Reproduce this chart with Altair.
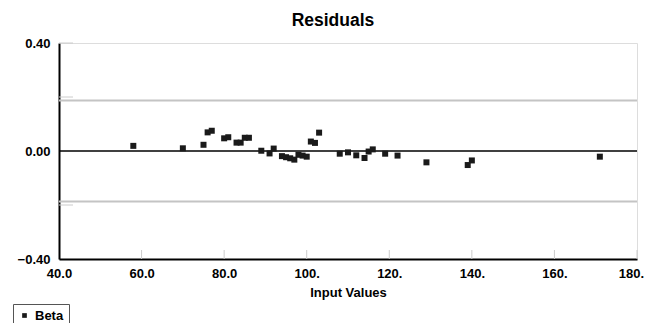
import altair as alt
import pandas as pd

# Residual data (Input value, residual)
input_values = [58, 70, 75, 76, 77, 80, 81, 83, 84, 85, 86, 89, 91, 92, 94, 95, 96, 97,
                98, 99, 100, 101, 102, 103, 108, 110, 112, 114, 115, 116, 119, 122,
                129, 139, 140, 171]
residuals = [0.019, 0.010, 0.023, 0.069, 0.075, 0.047, 0.051, 0.031, 0.031, 0.049, 0.049,
             0.001, -0.009, 0.009, -0.019, -0.023, -0.027, -0.032, -0.014, -0.017,
             -0.021, 0.035, 0.030, 0.068, -0.010, -0.005, -0.016, -0.026, -0.002,
             0.006, -0.010, -0.017, -0.042, -0.052, -0.035, -0.021]
series_name = "Beta"

control_limits = [0.187, -0.187]
y_tick_values = [0.4, 0.2, -0.2]
x_tick_values = [60, 80, 100, 120, 140, 160, 180]
x_label_values = [40, 60, 80, 100, 120, 140, 160, 180]
x_label_texts = ["40.0", "60.0", "80.0", "100.", "120.", "140.", "160.", "180."]

W, H = 578, 216
FONT = "Liberation Sans"

pts = pd.DataFrame({"x": input_values, "y": residuals, "series": series_name})

label_map = "{" + ",".join(f"'{v}':'{t}'" for v, t in zip(x_label_values, x_label_texts)) + "}"

x_scale = alt.Scale(domain=[40, 180], nice=False, zero=False)
y_scale = alt.Scale(domain=[-0.4, 0.4], nice=False)

points = alt.Chart(pts).mark_square(size=36, opacity=1).encode(
    x=alt.X("x:Q", scale=x_scale,
            axis=alt.Axis(values=x_label_values, labelExpr=label_map + "[datum.value]",
                          ticks=False, grid=False, domainColor="black", domainWidth=2,
                          labelFont=FONT, labelFontWeight="bold", labelFontSize=13,
                          labelColor="black", labelPadding=8, labelFlush=False,
                          labelOverlap=False,
                          labelOffset={"expr": "datum.value == 180 ? -6 : 0"},
                          title="Input Values", titleFont=FONT, titleFontWeight="bold",
                          titleFontSize=13, titleColor="black", titlePadding=6)),
    y=alt.Y("y:Q", scale=y_scale,
            axis=alt.Axis(values=[-0.4, 0, 0.4], format=".2f", ticks=False, grid=False,
                          domainColor="black", domainWidth=2,
                          labelFont=FONT, labelFontWeight="bold", labelFontSize=13,
                          labelColor="black", labelPadding=9, title=None)),
    color=alt.Color("series:N", scale=alt.Scale(range=["#1a1a1a"]),
                    legend=alt.Legend(title=None, orient="none", legendX=-46, legendY=261,
                                      symbolType="square", symbolSize=22,
                                      labelFont=FONT, labelFontWeight="bold",
                                      labelFontSize=13, labelColor="black",
                                      strokeColor="#555555", fillColor="white",
                                      padding=5, cornerRadius=0)),
)

limits = alt.Chart(pd.DataFrame({"y": control_limits})).mark_rule(
    color="#c4c4c4", strokeWidth=2).encode(
    y=alt.Y("y:Q", scale=y_scale), x=alt.value(0), x2=alt.value(W))

zero = alt.Chart(pd.DataFrame({"y": [0.0]})).mark_rule(
    color="black", strokeWidth=1.6).encode(
    y=alt.Y("y:Q", scale=y_scale), x=alt.value(0), x2=alt.value(W))

yticks = alt.Chart(pd.DataFrame({"y": y_tick_values})).mark_rule(
    color="#cccccc", strokeWidth=1).encode(
    y=alt.Y("y:Q", scale=y_scale), x=alt.value(0), x2=alt.value(14))

xticks = alt.Chart(pd.DataFrame({"x": x_tick_values})).mark_rule(
    color="#cccccc", strokeWidth=1).encode(
    x=alt.X("x:Q", scale=x_scale), y=alt.value(H), y2=alt.value(H - 9))

chart = alt.layer(limits, yticks, xticks, zero, points).properties(
    width=W, height=H,
    title=alt.TitleParams("Residuals", font=FONT, fontSize=17.5, fontWeight="bold",
                          color="black", anchor="middle", offset=8, dx=-15),
    autosize=alt.AutoSizeParams(type="none"),
    padding={"left": 51, "top": 35, "right": 9, "bottom": 64},
).configure_view(stroke=None).configure(background="white")

chart.save("out.html", embed_options={"renderer": "svg", "actions": False})
